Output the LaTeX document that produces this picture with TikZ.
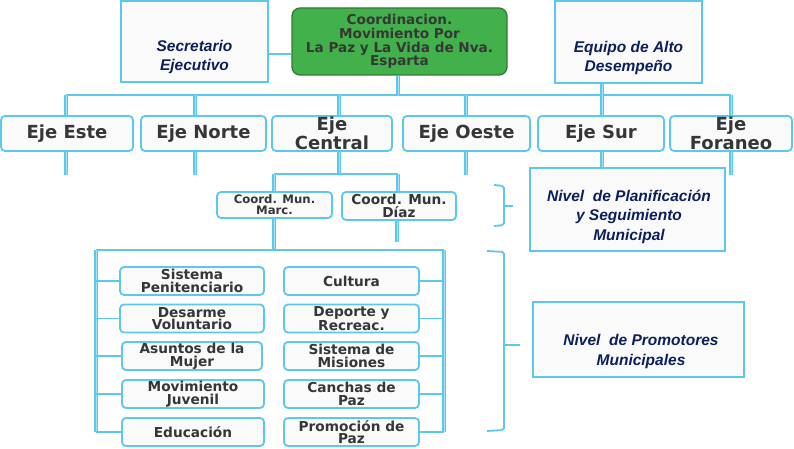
\documentclass[tikz,border=0pt]{standalone}
\usepackage{fontspec}
\setmainfont{DejaVu Sans}
\newfontfamily\arialf{Liberation Sans}
\definecolor{lb}{HTML}{5BC8EE}
\definecolor{navy}{HTML}{0B1F5C}
\definecolor{txtg}{HTML}{363636}
\definecolor{grn}{HTML}{43B14B}
\definecolor{grnd}{HTML}{2E7D32}
\definecolor{boxf}{HTML}{FAFAFA}
\begin{document}
\begin{tikzpicture}[x=1pt,y=-1pt,
  hconn/.style={draw=lb,line width=1.8pt},
  vconn/.style={draw=lb,line width=1.1pt,double=lb!55!white,double distance=0.9pt},
  ebox/.style={draw=lb,line width=1.8pt,fill=boxf,rounded corners=4pt,inner sep=0pt,align=center,text=txtg,font=\bfseries},
  ejebox/.style={ebox,minimum height=35pt,font=\bfseries\fontsize{18}{19}\selectfont},
  subbox/.style={ebox,minimum height=28pt,font=\bfseries\fontsize{13.7}{12.7}\selectfont},
  sqbox/.style={draw=lb,line width=1.8pt,fill=boxf,inner sep=0pt},
  navytxt/.style={text=navy,align=center,inner sep=0pt,font=\arialf\bfseries\itshape\fontsize{15.5}{19.5}\selectfont},
  brace/.style={draw=lb,line width=1.8pt,rounded corners=2pt}
]
\useasboundingbox (0,0) rectangle (794,449);

% top row
\node[sqbox,minimum width=147pt,minimum height=81pt] (sec) at (194.5,41.5) {};
\node[navytxt] (sect) at (194.5,57) {Secretario\\Ejecutivo};
\node[draw=grnd,fill=grn,line width=1.3pt,rounded corners=8pt,minimum width=215pt,minimum height=67pt,inner sep=0pt,align=center,text=txtg,font=\bfseries\fontsize{13.6}{13.7}\selectfont] (coord) at (399.5,41.5) {Coordinacion.\\Movimiento Por\\La Paz y La Vida de Nva.\\Esparta};
\node[sqbox,minimum width=147pt,minimum height=82pt] (equipo) at (628.5,42) {};
\node[navytxt] (equipot) at (628.5,58) {Equipo de Alto\\Desempe\~no};

\draw[hconn] ([yshift=-12.5pt]sec.east) -- ([yshift=-12.5pt]coord.west);

% Eje row
\node[ejebox,minimum width=132pt] (este) at (67,133.5) {Eje Este};
\node[ejebox,minimum width=125pt] (norte) at (203.5,133.5) {Eje Norte};
\node[ejebox,minimum width=120pt] (central) at (332,133.5) {Eje\\Central};
\node[ejebox,minimum width=127pt] (oeste) at (466.5,133.5) {Eje Oeste};
\node[ejebox,minimum width=126pt] (sur) at (601,133.5) {\raisebox{3pt}{Eje Sur}};
\node[ejebox,minimum width=122pt] (foraneo) at (731,133.5) {Eje\\Foraneo};

% bus
\coordinate (bE) at (66,95);
\coordinate (bN) at (195,95);
\coordinate (bC) at (339,95);
\coordinate (bCo) at (398,95);
\coordinate (bO) at (466,95);
\coordinate (bS) at (602,95);
\coordinate (bF) at (731,95);
\draw[hconn] (bE) -- (bF);
\draw[vconn] (coord.south -| bCo) -- (bCo);
\draw[vconn] (equipo.south -| bS) -- (bS);
\foreach \c/\n in {bE/este,bN/norte,bC/central,bO/oeste,bS/sur,bF/foraneo}
  \draw[vconn] (\c) -- (\c |- \n.north);
% stubs
\foreach \c/\n in {bE/este,bN/norte,bO/oeste,bF/foraneo}
  \draw[vconn] (\c |- \n.south) -- ++(0,23);

% Nivel boxes
\node[sqbox,minimum width=195pt,minimum height=83pt] (plan) at (627.5,209.5) {};
\node[navytxt] (plant) at (629,216.5) {Nivel\ \ de Planificaci\'on\\y Seguimiento\\Municipal};
\node[sqbox,minimum width=211pt,minimum height=75pt] (prom) at (638.5,339.5) {};
\node[navytxt] (promt) at (641,351.5) {Nivel\ \ de Promotores\\Municipales};
\draw[vconn] (bS |- sur.south) -- (bS |- plan.north);

% coordinators
\node[ebox,minimum width=115pt,minimum height=26pt,font=\bfseries\fontsize{11.7}{11}\selectfont] (marc) at (274.5,205) {Coord. Mun.\\Marc.};
\node[ebox,minimum width=114pt,minimum height=28pt,font=\bfseries\fontsize{13.7}{13}\selectfont] (diaz) at (399,206) {Coord. Mun.\\D\'iaz};
\coordinate (cL) at (274,174);
\coordinate (cR) at (398,174);
\draw[vconn] (bC |- central.south) -- (bC |- cL);
\draw[hconn] (cL) -- (cR);
\draw[vconn] (cL) -- (cL |- marc.north);
\draw[vconn] (cR) -- (cR |- diaz.north);
\coordinate (dS) at (397,242);
\draw[vconn] (dS |- diaz.south) -- (dS);

% promoters bus
\coordinate (pL) at (96,250);
\coordinate (pR) at (444,250);
\coordinate (pM) at (274,250);
\draw[vconn] (cL |- marc.south) -- (pM);
\draw[hconn] (pL) -- (pR);
\draw[vconn] (pL) -- (96,432);
\draw[vconn] (pR) -- (444,432);

% left column
\node[subbox,minimum width=144pt] (l1) at (192,281) {Sistema\\Penitenciario};
\node[subbox,minimum width=144pt] (l2) at (192,318.5) {Desarme\\Voluntario};
\node[subbox,minimum width=140pt] (l3) at (192,356) {Asuntos de la\\Mujer};
\node[subbox,minimum width=142pt] (l4) at (193,394) {Movimiento\\Juvenil};
\node[subbox,minimum width=142pt] (l5) at (193,432) {Educaci\'on};
% right column
\node[subbox,minimum width=135pt] (r1) at (351.5,281) {Cultura};
\node[subbox,minimum width=135pt] (r2) at (351.5,318.5) {Deporte y\\Recreac.};
\node[subbox,minimum width=135pt] (r3) at (351.5,356) {Sistema de\\Misiones};
\node[subbox,minimum width=135pt] (r4) at (351.5,394) {Canchas de\\Paz};
\node[subbox,minimum width=135pt] (r5) at (351.5,432) {Promoci\'on de\\Paz};
\foreach \i in {1,...,5}{
  \draw[hconn] (pL |- l\i.west) -- (l\i.west);
  \draw[hconn] (r\i.east) -- (pR |- r\i.east);
}

% braces
\coordinate (b1t) at (494,185);
\coordinate (b1b) at (494,226);
\coordinate (b1tip) at (513,206);
\draw[brace] (b1t) -- (504,186) -- (504,225) -- (b1b);
\draw[brace] (504,206) -- (b1tip);
\coordinate (b2t) at (487,251);
\coordinate (b2b) at (487,431);
\coordinate (b2tip) at (520,345);
\draw[brace] (b2t) -- (504,252) -- (504,430) -- (b2b);
\draw[brace] (504,345) -- (b2tip);
\end{tikzpicture}
\end{document}
